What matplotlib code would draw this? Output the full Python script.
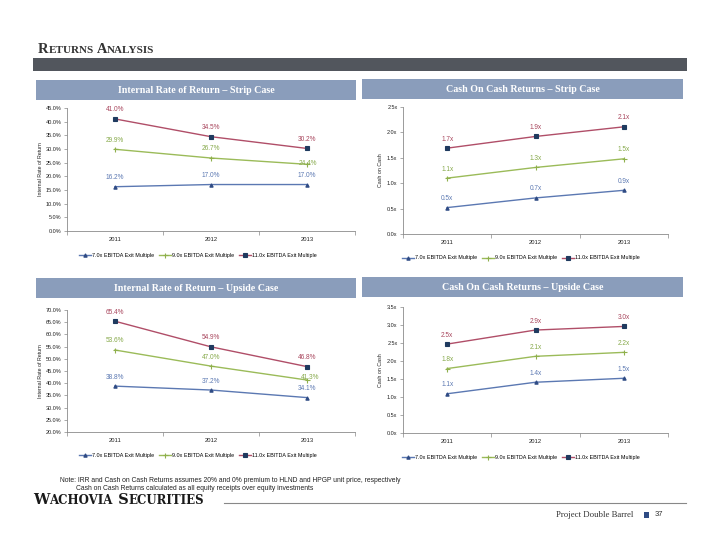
import matplotlib
matplotlib.use('Agg')
import matplotlib.pyplot as plt
from matplotlib.patches import Rectangle
from matplotlib.ticker import FuncFormatter, MultipleLocator

# data
years = ['2011', '2012', '2013']
series_names = ['7.0x EBITDA Exit Multiple', '9.0x EBITDA Exit Multiple',
                '11.0x EBITDA Exit Multiple']

irr_strip_7x = [16.2, 17.0, 17.0]
irr_strip_9x = [29.9, 26.7, 24.4]
irr_strip_11x = [41.0, 34.5, 30.2]

coc_strip_7x = [0.52, 0.71, 0.86]
coc_strip_9x = [1.10, 1.31, 1.48]
coc_strip_11x = [1.69, 1.92, 2.11]

irr_upside_7x = [38.8, 37.2, 34.1]
irr_upside_9x = [53.6, 47.0, 41.3]
irr_upside_11x = [65.4, 54.9, 46.8]

coc_upside_7x = [1.09, 1.41, 1.52]
coc_upside_9x = [1.79, 2.13, 2.24]
coc_upside_11x = [2.47, 2.86, 2.96]

W, H = 720, 556
fig = plt.figure(figsize=(W / 100, H / 100), dpi=100)
fig.patch.set_facecolor('white')

SANS = 'Liberation Sans'
SERIF = 'Liberation Serif'

line_cols = ['#5b78b2', '#9bbb59', '#b04e68']
mark_cols = ['#2f4b84', '#8fb04c', '#1f3a5f']
lab_cols = ['#5b78b2', '#86a94a', '#a8455c']
markers = ['^', '+', 's']
msizes = [2.4, 3.6, 2.7]


def fx(x):
    return x / W


def fy(y):
    return 1 - y / H


def add_rect(x0, y0, x1, y1, color):
    fig.patches.append(Rectangle((fx(x0), fy(y1)), fx(x1) - fx(x0), fy(y0) - fy(y1),
                                 transform=fig.transFigure, color=color, lw=0))


def small_caps(x, y, words, big, small, color, family=SERIF, weight='normal'):
    # fake small caps: first letter big, rest smaller, left to right
    r = fig.canvas.get_renderer()
    cur = fx(x)
    for i, w in enumerate(words):
        head = (' ' + w[0]) if i else w[0]
        for txt, size in ((head, big), (w[1:], small)):
            t = fig.text(cur, fy(y), txt, fontsize=size, family=family,
                         color=color, weight=weight, va='baseline')
            cur = fig.transFigure.inverted().transform(
                (t.get_window_extent(r).x1, 0))[0]
    return cur


def panel(box, series, ylim, step, fmt, ylabel, ylab_x, leg_xy, green_last):
    x0, y0, x1, y1 = box
    ax = fig.add_axes([fx(x0), fy(y1), fx(x1) - fx(x0), fy(y0) - fy(y1)])
    pos = [0.5, 1.5, 2.5]
    for k, vals in enumerate(series):
        ax.plot(pos, vals, color=line_cols[k], lw=1.0, marker=markers[k],
                ms=msizes[k], mfc=mark_cols[k], mec=mark_cols[k], mew=0.8,
                label=series_names[k], zorder=3)
        for j, v in enumerate(vals):
            off = (0, 6.5)
            if k == 1 and j == 2:
                off = green_last
            ax.annotate(fmt(v), (pos[j], v), xytext=off, textcoords='offset points',
                        ha='center', va='center', fontsize=4.7, family=SANS,
                        color=lab_cols[k])
    ax.set_xlim(0, 3)
    ax.set_ylim(*ylim)
    ax.yaxis.set_major_locator(MultipleLocator(step))
    ax.yaxis.set_major_formatter(FuncFormatter(lambda v, p: fmt(v)))
    ax.set_xticks([0, 1, 2, 3])
    ax.set_xticklabels([])
    ax.set_xticks(pos, minor=True)
    ax.set_xticklabels(years, minor=True)
    ax.tick_params(axis='x', which='minor', length=0, pad=4, labelsize=4.2,
                   labelcolor='#222222')
    ax.tick_params(axis='x', which='major', length=3, width=0.5, color='#888888')
    ax.tick_params(axis='y', length=2, width=0.5, color='#888888', pad=2,
                   labelsize=4.0, labelcolor='#222222')
    for lab in ax.get_xticklabels(minor=True) + ax.get_yticklabels():
        lab.set_family(SANS)
    for s in ['top', 'right']:
        ax.spines[s].set_visible(False)
    for s in ['left', 'bottom']:
        ax.spines[s].set_color('#8a8a8a')
        ax.spines[s].set_linewidth(0.6)
    ax.set_facecolor('none')
    fig.text(fx(ylab_x), fy((y0 + y1) / 2), ylabel, rotation=90, ha='center',
             va='center', fontsize=3.8, family=SANS, color='#222222')
    ax.legend(loc='center', bbox_to_anchor=(fx(leg_xy[0]), fy(leg_xy[1])),
              bbox_transform=fig.transFigure, ncol=3, frameon=False,
              prop={'family': SANS, 'size': 3.9}, handlelength=2.2,
              handletextpad=0.3, columnspacing=0.8, borderaxespad=0)
    return ax


pct = lambda v: '{:.1f}%'.format(v)
mult = lambda v: '{:.1f}x'.format(v)

# page title and band
small_caps(38, 53, ['RETURNS', 'ANALYSIS'], 10.5, 8.0, '#333333', weight='bold')
add_rect(33, 58, 687, 71, '#52565d')

# panel headers
hdr = '#8a9dbb'
headers = [((36, 80, 356, 100), 'Internal Rate of Return \u2013 Strip Case'),
           ((362, 79, 683, 99), 'Cash On Cash Returns \u2013 Strip Case'),
           ((36, 278, 356, 298), 'Internal Rate of Return \u2013 Upside Case'),
           ((362, 277, 683, 297), 'Cash On Cash Returns \u2013 Upside Case')]
for (a, b, c, d), txt in headers:
    add_rect(a, b, c, d, hdr)
    fig.text(fx((a + c) / 2), fy((b + d) / 2 + 0.5), txt, ha='center', va='center',
             fontsize=7.2, family=SERIF, weight='bold', color='white')

panel((67, 108, 355, 231), [irr_strip_7x, irr_strip_9x, irr_strip_11x],
      (0, 45), 5, pct, 'Internal Rate of Return', 40, (198, 255), (1, 0.5))
panel((403, 107, 668, 234), [coc_strip_7x, coc_strip_9x, coc_strip_11x],
      (0, 2.5), 0.5, mult, 'Cash on Cash', 381, (521, 258), (0, 6.5))
panel((67, 310, 355, 432), [irr_upside_7x, irr_upside_9x, irr_upside_11x],
      (20, 70), 5, pct, 'Internal Rate of Return', 40, (198, 455), (2, 2))
panel((403, 307, 668, 433), [coc_upside_7x, coc_upside_9x, coc_upside_11x],
      (0, 3.5), 0.5, mult, 'Cash on Cash', 381, (521, 457), (0, 6.5))

# footnotes
fig.text(fx(60), fy(481), 'Note: IRR and Cash on Cash Returns assumes 20% and 0% premium '
         'to HLND and HPGP unit price, respectively', fontsize=4.9, family=SANS,
         color='#222222', va='center')
fig.text(fx(76), fy(489), 'Cash on Cash Returns calculated as all equity receipts '
         'over equity investments', fontsize=4.9, family=SANS, color='#222222',
         va='center')

small_caps(33, 504, ['WACHOVIA', 'SECURITIES'], 10.5, 8.5, '#1a1a1a',
           family='DejaVu Serif', weight='bold')
fig.lines.append(plt.Line2D([fx(224), fx(686)], [fy(503), fy(503)],
                            transform=fig.transFigure, color='#888888', lw=0.8))

fig.text(fx(633), fy(515), 'Project Double Barrel', ha='right', va='center',
         fontsize=6.3, family=SERIF, color='#333333')
add_rect(644, 512, 649, 518, '#2f4b84')
fig.text(fx(655), fy(515), '37', ha='left', va='center', fontsize=5.5,
         family=SANS, color='#333333')

fig.savefig('out.png', dpi=100)
